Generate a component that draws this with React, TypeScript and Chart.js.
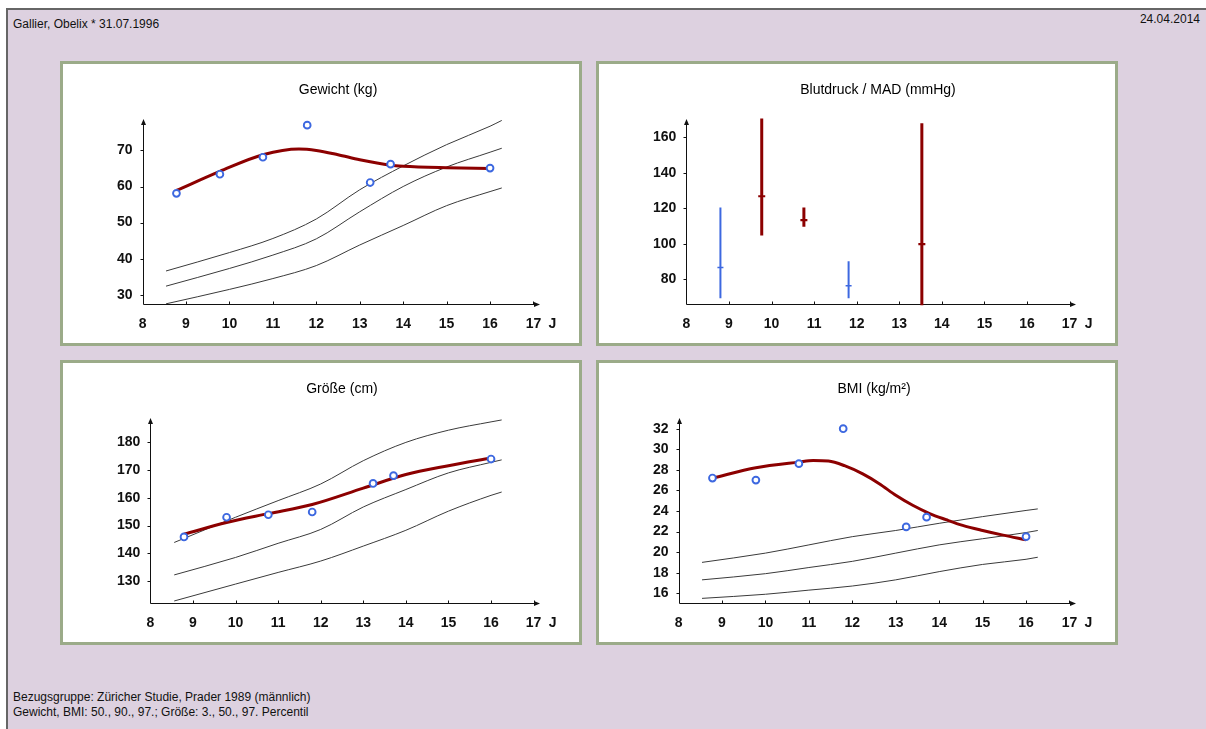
import React, { useEffect, useRef } from "react";
import { Chart, registerables } from "chart.js";

Chart.register(...registerables);

// ---------- shared ----------
const ageTicks = [8, 9, 10, 11, 12, 13, 14, 15, 16, 17];
const ageAxisEnd = 17.15;

// ---------- Gewicht (kg) ----------
const weightAges = [8.78, 9.78, 10.77, 11.79, 13.24, 13.71, 16.0];
const weightKg = [58.1, 63.4, 68.1, 77.0, 61.1, 66.2, 65.1];
const weightTrendAges = [8.78, 9.78, 10.77, 11.6, 12.0, 12.5, 13.0, 13.7, 14.0, 15.0, 16.0];
const weightTrendKg = [58.9, 64.2, 68.8, 70.4, 70.0, 68.8, 67.4, 65.9, 65.6, 65.2, 65.0];
const weightPctAges = [8.54, 10, 11, 12, 13, 14, 15, 16, 16.27];
const weightP97 = [36.6, 41.7, 45.6, 51.0, 59.1, 65.7, 71.6, 76.7, 78.3];
const weightP90 = [32.4, 37.3, 41.0, 45.5, 53.0, 60.0, 65.4, 69.5, 70.6];
const weightP50 = [27.5, 31.5, 34.5, 38.1, 43.8, 49.2, 54.7, 58.6, 59.6];
const weightTicks = [30, 40, 50, 60, 70];

// ---------- Blutdruck / MAD (mmHg) ----------
const bpHighAges = [9.77, 10.76, 13.53];
const bpHighSys = [170.5, 120.5, 167.8];
const bpHighDia = [104.7, 109.7, 65.5];
const bpHighMad = [126.8, 113.4, 99.9];
const bpNormAges = [8.8, 11.81];
const bpNormSys = [120.5, 90.2];
const bpNormDia = [69.4, 69.4];
const bpNormMad = [86.7, 76.5];
const bpTicks = [80, 100, 120, 140, 160];

// ---------- Größe (cm) ----------
const heightAges = [8.79, 9.79, 10.77, 11.8, 13.23, 13.71, 16.0];
const heightCm = [145.9, 153.0, 153.9, 154.9, 165.2, 168.0, 174.0];
const heightTrendAges = [8.79, 9.79, 10.77, 11.8, 13.0, 14.0, 15.0, 16.0];
const heightTrendCm = [146.9, 151.1, 154.3, 157.6, 163.5, 168.4, 171.6, 174.4];
const heightPctAges = [8.56, 10, 11, 12, 13, 14, 15, 16, 16.25];
const heightP97 = [143.9, 153.0, 159.0, 165.0, 173.4, 180.0, 184.4, 187.4, 188.1];
const heightP50 = [132.2, 138.5, 143.6, 148.6, 156.7, 163.0, 169.0, 172.8, 173.7];
const heightP3 = [122.8, 128.9, 133.1, 137.2, 142.6, 148.3, 155.2, 160.9, 162.1];
const heightTicks = [130, 140, 150, 160, 170, 180];

// ---------- BMI (kg/m²) ----------
const bmiAges = [8.78, 9.78, 10.77, 11.79, 13.24, 13.71, 16.0];
const bmiValues = [27.2, 27.0, 28.6, 32.0, 22.45, 23.4, 21.5];
const bmiTrendAges = [8.78, 9.78, 10.77, 11.1, 11.45, 11.82, 12.24, 12.62, 13.01, 13.39, 13.78, 14.16, 14.54, 15.0, 15.47, 16.0];
const bmiTrendValues = [27.2, 28.2, 28.75, 28.9, 28.85, 28.4, 27.6, 26.65, 25.5, 24.55, 23.75, 23.15, 22.6, 22.1, 21.65, 21.2];
const bmiPctAges = [8.54, 10, 11, 12, 13, 14, 15, 16, 16.27];
const bmiP97 = [19.0, 19.9, 20.7, 21.5, 22.1, 22.8, 23.45, 24.05, 24.2];
const bmiP90 = [17.3, 17.9, 18.5, 19.1, 19.9, 20.7, 21.3, 21.9, 22.1];
const bmiP50 = [15.5, 15.9, 16.3, 16.7, 17.3, 18.1, 18.8, 19.3, 19.5];
const bmiTicks = [16, 18, 20, 22, 24, 26, 28, 30, 32];

// ---------- styling ----------
const FONT = "'Liberation Sans', Arial, Helvetica, sans-serif";
const RED = "#8c0000";
const BLUE = "#3d68e0";
const PCT = "#3a3a3a";
const CANVAS_W = 516;
const CANVAS_H = 279;
const TICK_PAD_X = 12;
const TICK_PAD_Y = 10;
const TICK_FONT_SIZE = 14;

const xy = (xs: number[], ys: number[]) => xs.map((x, i) => ({ x, y: ys[i] }));

function axesPlugin(title: string) {
  return {
    id: "panelAxes",
    beforeDatasetsDraw(chart: any) {
      const { ctx, chartArea } = chart;
      const xs = chart.scales.x;
      const ys = chart.scales.y;
      const L = Math.round(chartArea.left) + 0.5;
      const B = Math.round(chartArea.bottom) + 0.5;
      const R = chartArea.right;
      const T = chartArea.top;
      ctx.save();
      ctx.strokeStyle = "#111";
      ctx.fillStyle = "#111";
      ctx.lineWidth = 1;
      ctx.beginPath();
      ctx.moveTo(L, B);
      ctx.lineTo(R - 3, B);
      ctx.moveTo(L, B);
      ctx.lineTo(L, T + 3);
      ctx.stroke();
      // arrow heads
      ctx.beginPath();
      ctx.moveTo(R, B);
      ctx.lineTo(R - 6, B - 2.5);
      ctx.lineTo(R - 6, B + 2.5);
      ctx.closePath();
      ctx.fill();
      ctx.beginPath();
      ctx.moveTo(L, T);
      ctx.lineTo(L - 2.5, T + 6);
      ctx.lineTo(L + 2.5, T + 6);
      ctx.closePath();
      ctx.fill();
      // tick marks
      ctx.beginPath();
      for (const v of ageTicks.slice(1)) {
        const px = Math.round(xs.getPixelForValue(v)) + 0.5;
        ctx.moveTo(px, B);
        ctx.lineTo(px, B - 3);
      }
      for (const t of ys.ticks) {
        const py = Math.round(ys.getPixelForValue(t.value)) + 0.5;
        ctx.moveTo(L, py);
        ctx.lineTo(L - 3, py);
      }
      ctx.stroke();
      ctx.restore();
    },
    afterDraw(chart: any) {
      const { ctx, chartArea } = chart;
      const xs = chart.scales.x;
      const x8 = xs.getPixelForValue(8);
      const x17 = xs.getPixelForValue(17);
      ctx.save();
      ctx.fillStyle = "#000";
      ctx.textAlign = "center";
      ctx.textBaseline = "middle";
      ctx.font = `14px ${FONT}`;
      ctx.fillText(title, (x8 + x17) / 2, 26);
      ctx.fillStyle = "#111";
      ctx.font = `bold ${TICK_FONT_SIZE}px ${FONT}`;
      ctx.fillText("J", x17 + 19, chartArea.bottom + TICK_PAD_X + (TICK_FONT_SIZE * 1.2) / 2);
      ctx.restore();
    },
  };
}

function baseOptions(yMin: number, yMax: number, yTicks: number[]) {
  const tickFont = { family: FONT, size: TICK_FONT_SIZE, weight: "bold" as const };
  return {
    responsive: false,
    animation: false as const,
    devicePixelRatio: 1,
    layout: { padding: { left: 54, right: 39, top: 55, bottom: 10 } },
    plugins: {
      legend: { display: false },
      tooltip: { enabled: false },
      title: { display: false },
    },
    scales: {
      x: {
        type: "linear" as const,
        min: 8,
        max: ageAxisEnd,
        offset: false,
        grid: { display: false, drawTicks: false },
        border: { display: false },
        afterBuildTicks: (s: any) => {
          s.ticks = ageTicks.map((v) => ({ value: v }));
        },
        afterFit: (s: any) => {
          s.height = s.height - TICK_PAD_X;
        },
        ticks: {
          padding: TICK_PAD_X,
          font: tickFont,
          color: "#111",
          autoSkip: false,
          maxRotation: 0,
          callback: (v: any) => String(v),
        },
      },
      y: {
        type: "linear" as const,
        min: yMin,
        max: yMax,
        grid: { display: false, drawTicks: false },
        border: { display: false },
        afterBuildTicks: (s: any) => {
          s.ticks = yTicks.map((v) => ({ value: v }));
        },
        afterFit: (s: any) => {
          s.width = s.width - TICK_PAD_Y;
        },
        ticks: {
          padding: TICK_PAD_Y,
          font: tickFont,
          color: "#111",
          autoSkip: false,
          callback: (v: any) => String(v),
        },
      },
    },
  };
}

function growthConfig(
  title: string,
  yMin: number,
  yMax: number,
  yTicks: number[],
  ages: number[],
  values: number[],
  trendAges: number[],
  trendValues: number[],
  pctAges: number[],
  pcts: { label: string; values: number[] }[]
): any {
  const pctSets = pcts.map((p) => ({
    type: "line",
    label: p.label,
    data: xy(pctAges, p.values),
    borderColor: PCT,
    borderWidth: 1,
    pointRadius: 0,
    cubicInterpolationMode: "monotone",
    fill: false,
    order: 2,
  }));
  return {
    type: "line",
    data: {
      datasets: [
        {
          type: "line",
          label: "Messwerte",
          data: xy(ages, values),
          showLine: false,
          pointStyle: "circle",
          pointRadius: 3.4,
          pointBorderWidth: 1.9,
          pointBorderColor: BLUE,
          pointBackgroundColor: "#ffffff",
          borderColor: BLUE,
          order: 0,
        },
        {
          type: "line",
          label: "Verlauf",
          data: xy(trendAges, trendValues),
          borderColor: RED,
          borderWidth: 3,
          pointRadius: 0,
          cubicInterpolationMode: "monotone",
          fill: false,
          order: 1,
        },
        ...pctSets,
      ],
    },
    options: baseOptions(yMin, yMax, yTicks),
    plugins: [axesPlugin(title)],
  };
}

function bpConfig(title: string): any {
  return {
    type: "bar",
    data: {
      datasets: [
        {
          type: "line",
          label: "MAD erhöht",
          data: xy(bpHighAges, bpHighMad),
          showLine: false,
          pointStyle: "line",
          pointRadius: 3.5,
          pointBorderWidth: 2.2,
          pointBorderColor: RED,
          borderColor: RED,
          order: 0,
        },
        {
          type: "line",
          label: "MAD normal",
          data: xy(bpNormAges, bpNormMad),
          showLine: false,
          pointStyle: "line",
          pointRadius: 3,
          pointBorderWidth: 1.5,
          pointBorderColor: BLUE,
          borderColor: BLUE,
          order: 0,
        },
        {
          type: "bar",
          label: "Blutdruck erhöht",
          data: bpHighAges.map((x, i) => ({ x, y: [bpHighDia[i], bpHighSys[i]] })),
          backgroundColor: RED,
          borderWidth: 0,
          grouped: false,
          maxBarThickness: 3,
          clip: 2,
          order: 1,
        },
        {
          type: "bar",
          label: "Blutdruck normal",
          data: bpNormAges.map((x, i) => ({ x, y: [bpNormDia[i], bpNormSys[i]] })),
          backgroundColor: BLUE,
          borderWidth: 0,
          grouped: false,
          maxBarThickness: 2,
          order: 1,
        },
      ],
    },
    options: baseOptions(66.1, 170.25, bpTicks),
    plugins: [axesPlugin(title)],
  };
}

function ChartPanel({ left, top, make }: { left: number; top: number; make: () => any }) {
  const ref = useRef<HTMLCanvasElement | null>(null);
  useEffect(() => {
    if (!ref.current) return;
    const chart = new Chart(ref.current, make());
    return () => chart.destroy();
  }, []);
  return (
    <div
      style={{
        position: "absolute",
        left,
        top,
        width: CANVAS_W + 6,
        height: CANVAS_H + 6,
        boxSizing: "border-box",
        border: "3px solid #9bab89",
        background: "#ffffff",
      }}
    >
      <canvas
        ref={ref}
        width={CANVAS_W}
        height={CANVAS_H}
        style={{ display: "block", width: CANVAS_W, height: CANVAS_H }}
      />
    </div>
  );
}

const textStyle: React.CSSProperties = {
  position: "absolute",
  fontFamily: FONT,
  fontSize: 12,
  lineHeight: "14px",
  color: "#111",
  whiteSpace: "nowrap",
};

export default function App() {
  return (
    <div
      style={{
        position: "fixed",
        left: 0,
        top: 0,
        width: 1206,
        height: 729,
        background: "#ffffff",
        overflow: "hidden",
      }}
    >
      <div
        style={{
          position: "absolute",
          left: 6,
          top: 8,
          right: 0,
          bottom: 0,
          boxSizing: "border-box",
          borderTop: "2px solid #666666",
          borderLeft: "2px solid #666666",
          background: "#ddd1e0",
        }}
      />
      <div style={{ ...textStyle, left: 13, top: 17 }}>Gallier, Obelix * 31.07.1996</div>
      <div style={{ ...textStyle, right: 6, top: 12 }}>24.04.2014</div>

      <ChartPanel
        left={60}
        top={61}
        make={() =>
          growthConfig("Gewicht (kg)", 27.4, 78.7, weightTicks, weightAges, weightKg, weightTrendAges, weightTrendKg, weightPctAges, [
            { label: "97. Percentil", values: weightP97 },
            { label: "90. Percentil", values: weightP90 },
            { label: "50. Percentil", values: weightP50 },
          ])
        }
      />
      <ChartPanel left={596} top={61} make={() => bpConfig("Blutdruck / MAD (mmHg)")} />
      <ChartPanel
        left={60}
        top={360}
        make={() =>
          growthConfig("Größe (cm)", 122.0, 188.8, heightTicks, heightAges, heightCm, heightTrendAges, heightTrendCm, heightPctAges, [
            { label: "97. Percentil", values: heightP97 },
            { label: "50. Percentil", values: heightP50 },
            { label: "3. Percentil", values: heightP3 },
          ])
        }
      />
      <ChartPanel
        left={596}
        top={360}
        make={() =>
          growthConfig("BMI (kg/m²)", 15.03, 33.04, bmiTicks, bmiAges, bmiValues, bmiTrendAges, bmiTrendValues, bmiPctAges, [
            { label: "97. Percentil", values: bmiP97 },
            { label: "90. Percentil", values: bmiP90 },
            { label: "50. Percentil", values: bmiP50 },
          ])
        }
      />

      <div style={{ ...textStyle, left: 13, top: 690 }}>Bezugsgruppe: Züricher Studie, Prader 1989 (männlich)</div>
      <div style={{ ...textStyle, left: 13, top: 705 }}>Gewicht, BMI: 50., 90., 97.; Größe: 3., 50., 97. Percentil</div>
    </div>
  );
}
